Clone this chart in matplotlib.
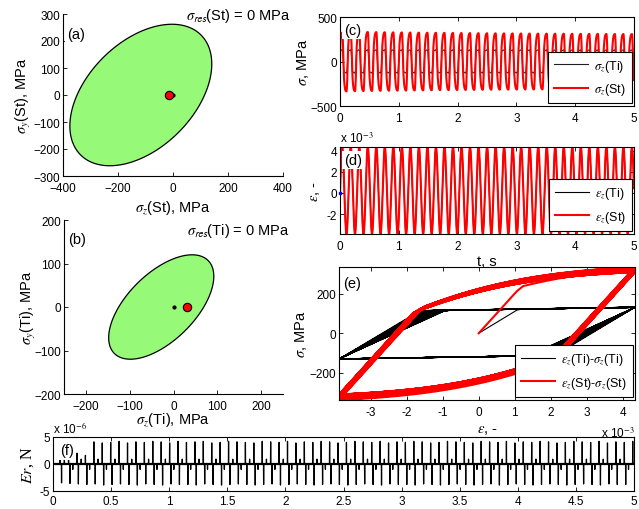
import numpy as np
import matplotlib
matplotlib.use("Agg")
import matplotlib.pyplot as plt
from matplotlib.ticker import FuncFormatter

plt.rcParams['font.family'] = ['Liberation Sans', 'DejaVu Sans']
plt.rcParams['mathtext.fontset'] = 'stix'
plt.rcParams['font.size'] = 9

# ---------------- data ----------------
# (a) steel yield ellipse (MPa)
st_ell_center = [-117.0, 0.0]
st_ell_half = [258.0, 262.0]
st_ell_phase_deg = 64.0
st_point = [-15.0, 0.0]
# (b) titanium yield ellipse (MPa)
ti_ell_center = [-28.0, 0.0]
ti_ell_half = [120.0, 120.0]
ti_ell_phase_deg = 54.0
ti_point = [30.0, 0.0]
origin_point = [0.0, 0.0]

# loading (strain controlled)
t_end = 5.0
dt = 0.001
load_freq_hz = 6.9
strain_max = 4.34e-3
strain_min = -3.88e-3

# steel (St) material parameters
st_E = 200e3
st_sy0 = 235.0
st_C = 58000.0
st_gamma = 480.0
st_Q = 40.0
st_b = 4.0
# titanium (Ti) material parameters
ti_E0 = 110e3
ti_sy = 122.0
ti_H = 3000.0
ti_D = 0.3
ti_b = 5.0

# (f) residual spikes (x 1e-6 N), one pair per load reversal
er_pos_e6 = [1.2, 1.8, 2.0, 1.6, 4.1, 3.9, 4.0, 4.2, 3.9, 4.1, 4.0, 4.2, 4.1, 3.9,
             4.2, 4.0, 4.1, 4.2, 3.9, 4.0, 4.2, 4.1, 4.0, 3.9, 4.2, 4.1, 4.0, 4.2,
             3.9, 4.1, 4.0, 4.2, 4.1, 3.9, 4.0, 4.2, 4.1, 4.0, 4.2, 3.9, 4.1, 4.0,
             4.2, 4.1, 3.9, 4.0, 4.2, 4.1, 4.0, 3.9, 4.2, 4.1, 4.0, 4.2, 3.9, 4.1,
             4.0, 4.2, 4.1, 3.9, 4.0, 4.2, 4.1, 4.0, 4.2, 3.9, 4.1, 4.0, 4.2, 4.1]
er_neg_e6 = [-3.5, -3.6, -3.7, -3.8, -3.7, -3.9, -3.8, -3.7, -3.8, -3.9, -3.7, -3.8,
             -3.9, -3.7, -3.8, -3.8, -3.9, -3.7, -3.8, -3.9, -3.8, -3.7, -3.8, -3.9,
             -3.8, -3.7, -3.9, -3.8, -3.7, -3.8, -3.9, -3.8, -3.7, -3.8, -3.9, -3.8,
             -3.7, -3.8, -3.9, -3.7, -3.8, -3.8, -3.9, -3.7, -3.8, -3.9, -3.8, -3.7,
             -3.8, -3.9, -3.8, -3.7, -3.9, -3.8, -3.7, -3.8, -3.9, -3.8, -3.7, -3.8,
             -3.9, -3.8, -3.7, -3.8, -3.9, -3.7, -3.8, -3.8, -3.9, -3.7]
er_small_e6 = [0.9, -1.0]

# ---------------- derived series ----------------
t = np.arange(0.0, t_end + dt / 2, dt)
s_mean = 0.5 * (strain_max + strain_min)
s_amp = 0.5 * (strain_max - strain_min)
phi0 = np.arcsin(s_mean / s_amp)
strain = s_mean + s_amp * np.sin(2 * np.pi * load_freq_hz * t - phi0)


def steel_response(eps):
    sig = np.empty_like(eps)
    ep = alpha = p = 0.0
    for i, e in enumerate(eps):
        sy = st_sy0 - st_Q * (1 - np.exp(-st_b * p))
        xi = st_E * (e - ep) - alpha
        f = abs(xi) - sy
        if f > 0:
            n = np.sign(xi)
            dp = f / (st_E + st_C - st_gamma * alpha * n)
            ep += n * dp
            alpha += st_C * n * dp - st_gamma * alpha * dp
            p += dp
        sig[i] = st_E * (e - ep)
    return sig


def ti_response(eps):
    sig = np.empty_like(eps)
    ep = alpha = p = 0.0
    for i, e in enumerate(eps):
        E = ti_E0 * (1 - ti_D * (1 - np.exp(-ti_b * p)))
        xi = E * (e - ep) - alpha
        f = abs(xi) - ti_sy
        if f > 0:
            n = np.sign(xi)
            dp = f / (E + ti_H)
            ep += n * dp
            alpha += ti_H * n * dp
            p += dp
        sig[i] = E * (e - ep)
    return sig


sig_st = steel_response(strain)
sig_ti = ti_response(strain)

# residual spikes series: one +/- pair after every load reversal
half = 0.5 / load_freq_hz
er_t, er_v = [0.0], [0.0]
for k in range(len(er_pos_e6)):
    base = (k + 0.5) * half + 0.35 * half
    for off, h in [(0.0, er_pos_e6[k]), (0.012, er_neg_e6[k]),
                   (0.5 * half, er_small_e6[k % 2])]:
        tc = base + off
        if tc > t_end:
            continue
        er_t += [tc - 0.0015, tc, tc + 0.0015]
        er_v += [0.0, h * 1e-6, 0.0]
er_t.append(t_end)
er_v.append(0.0)

# ---------------- figure ----------------
W, H = 639, 510
fig = plt.figure(figsize=(W / 100, H / 100), dpi=100)


def box(l, r, tp, b):
    return [l / W, (H - b) / H, (r - l) / W, (b - tp) / H]


green = '#96fa78'
LBL = 10.5


def style(ax, boxon=True):
    for s in ax.spines.values():
        s.set_linewidth(0.8)
    if not boxon:
        ax.spines['top'].set_visible(False)
        ax.spines['right'].set_visible(False)
    ax.tick_params(direction='in', length=3, width=0.6, labelsize=8.5,
                   top=boxon, right=boxon)
    ax.tick_params(axis='x', pad=4)
    ax.tick_params(axis='y', pad=2)


def ellipse(ax, c, half_ax, ph):
    tt = np.linspace(0, 2 * np.pi, 400)
    x = c[0] + half_ax[0] * np.cos(tt)
    y = c[1] + half_ax[1] * np.cos(tt - np.deg2rad(ph))
    ax.fill(x, y, facecolor=green, edgecolor='black', linewidth=0.9, zorder=1)


def tag(ax, s, x=0.03, y=0.93):
    ax.text(x, y, s, transform=ax.transAxes, fontsize=10.5, ha='left', va='top',
            zorder=10, bbox=dict(facecolor='white', edgecolor='none', pad=1.5))


# (a)
ax = fig.add_axes(box(63, 283, 15, 177))
ellipse(ax, st_ell_center, st_ell_half, st_ell_phase_deg)
ax.plot(*origin_point, 'o', color='black', markersize=2, zorder=3)
ax.plot(*st_point, 'o', markerfacecolor='red', markeredgecolor='black',
        markersize=6, markeredgewidth=0.8, zorder=4)
ax.set_xlim(-400, 400)
ax.set_ylim(-300, 300)
ax.set_xticks(np.arange(-400, 401, 200))
ax.set_yticks(np.arange(-300, 301, 100))
style(ax, boxon=False)
ax.set_xlabel(r'$\sigma_z$(St), MPa', fontsize=LBL)
ax.set_ylabel(r'$\sigma_y$(St), MPa', fontsize=LBL)
ax.xaxis.set_label_coords(0.5, -0.14)
ax.yaxis.set_label_coords(-0.135, 0.5)
tag(ax, '(a)', 0.02, 0.92)
ax.text(0.56, 0.94, r'$\sigma_{\mathsf{res}}$(St) = 0 MPa', transform=ax.transAxes,
        fontsize=LBL, ha='left', va='bottom', zorder=10,
        bbox=dict(facecolor='white', edgecolor='none', pad=1))

# (b)
ax = fig.add_axes(box(64, 283, 221, 395))
ellipse(ax, ti_ell_center, ti_ell_half, ti_ell_phase_deg)
ax.plot(*origin_point, 'o', color='black', markersize=2, zorder=3)
ax.plot(*ti_point, 'o', markerfacecolor='red', markeredgecolor='black',
        markersize=6, markeredgewidth=0.8, zorder=4)
ax.set_xlim(-250, 250)
ax.set_ylim(-200, 200)
ax.set_xticks(np.arange(-200, 201, 100))
ax.set_yticks(np.arange(-200, 201, 100))
style(ax, boxon=False)
ax.set_xlabel(r'$\sigma_z$(Ti), MPa', fontsize=LBL)
ax.set_ylabel(r'$\sigma_y$(Ti), MPa', fontsize=LBL)
ax.xaxis.set_label_coords(0.5, -0.095)
ax.yaxis.set_label_coords(-0.12, 0.5)
tag(ax, '(b)', 0.02, 0.93)
ax.text(0.56, 0.89, r'$\sigma_{\mathsf{res}}$(Ti) = 0 MPa', transform=ax.transAxes,
        fontsize=LBL, ha='left', va='bottom', zorder=10)

leg_kw = dict(loc='lower right', fontsize=9, frameon=True, fancybox=False,
              edgecolor='black', framealpha=1, handlelength=2.7, handletextpad=0.5,
              labelspacing=0.6, borderpad=0.5, borderaxespad=0)

# (c)
ax = fig.add_axes(box(340, 634, 18, 107))
ax.plot(t, sig_ti, color='#202020', linewidth=0.8, label=r'$\sigma_z$(Ti)')
ax.plot(t, sig_st, color='red', linewidth=1.5, label=r'$\sigma_z$(St)')
ax.set_xlim(0, 5)
ax.set_ylim(-500, 500)
ax.set_xticks(range(6))
ax.set_yticks([-500, 0, 500])
style(ax)
ax.set_ylabel(r'$\sigma$, MPa', fontsize=LBL)
ax.yaxis.set_label_coords(-0.1, 0.5)
tag(ax, '(c)', 0.015, 0.93)
lg = ax.legend(bbox_to_anchor=(0.993, 0.03), **leg_kw)
lg.get_frame().set_linewidth(0.8)
lg.set_zorder(20)

# (d)
ax = fig.add_axes(box(340, 634, 148, 235))
ax.plot(t, strain, color='black', linewidth=0.8, label=r'$\varepsilon_z$(Ti)')
ax.plot(t, strain, color='red', linewidth=1.5, label=r'$\varepsilon_z$(St)')
ax.plot(0, 0, 's', color='blue', markersize=2, zorder=5, clip_on=False)
ax.set_xlim(0, 5)
ax.set_ylim(strain.min(), strain.max())
ax.set_xticks(range(6))
ax.set_yticks([-2e-3, 0, 2e-3, 4e-3])
ax.yaxis.set_major_formatter(FuncFormatter(lambda v, p: f'{v * 1e3:g}'))
style(ax)
ax.set_ylabel(r'$\varepsilon$, -', fontsize=LBL)
ax.yaxis.set_label_coords(-0.06, 0.5)
ax.set_xlabel('t, s', fontsize=LBL)
ax.xaxis.set_label_coords(0.5, -0.225)
ax.text(0.0, 1.02, r'x 10$^{-3}$', transform=ax.transAxes, fontsize=8.5,
        ha='left', va='bottom')
tag(ax, '(d)', 0.015, 0.93)
lg = ax.legend(bbox_to_anchor=(0.993, 0.034), **leg_kw)
lg.get_frame().set_linewidth(0.8)
lg.set_zorder(20)

# (e)
ax = fig.add_axes(box(339, 635, 268, 401))
ax.plot(strain, sig_ti, color='black', linewidth=0.8,
        label=r'$\varepsilon_z$(Ti)-$\sigma_z$(Ti)')
ax.plot(strain, sig_st, color='red', linewidth=1.5,
        label=r'$\varepsilon_z$(St)-$\sigma_z$(St)')
ax.set_xlim(strain.min(), strain.max())
ax.set_ylim(sig_st.min(), sig_st.max())
ax.set_xticks(np.arange(-3, 5) * 1e-3)
ax.xaxis.set_major_formatter(FuncFormatter(lambda v, p: f'{v * 1e3:.0f}'))
ax.set_yticks([-200, 0, 200])
style(ax)
ax.set_ylabel(r'$\sigma$, MPa', fontsize=LBL)
ax.yaxis.set_label_coords(-0.1, 0.5)
ax.set_xlabel(r'$\varepsilon$, -', fontsize=LBL)
ax.xaxis.set_label_coords(0.5, -0.165)
ax.text(1.0, -0.19, r'x 10$^{-3}$', transform=ax.transAxes, fontsize=8.5,
        ha='right', va='top')
tag(ax, '(e)', 0.015, 0.93)
lg = ax.legend(bbox_to_anchor=(0.993, 0.023), **leg_kw)
lg.get_frame().set_linewidth(0.8)
lg.set_zorder(20)

# (f)
ax = fig.add_axes(box(53, 634, 438, 492))
ax.plot(er_t, er_v, color='black', linewidth=0.9)
ax.axhline(0, color='black', linewidth=1.6)
ax.set_xlim(0, 5)
ax.set_ylim(-5e-6, 5e-6)
ax.set_xticks(np.arange(0, 5.01, 0.5))
ax.xaxis.set_major_formatter(FuncFormatter(lambda v, p: f'{v:g}'))
ax.set_yticks([-5e-6, 0, 5e-6])
ax.yaxis.set_major_formatter(FuncFormatter(lambda v, p: f'{v * 1e6:.0f}'))
style(ax)
ax.tick_params(axis='x', pad=3)
ax.set_ylabel(r'$Er$, N', fontsize=11.5, family='Liberation Serif')
ax.yaxis.set_label_coords(-0.03, 0.5)
ax.text(0.0, 1.03, r'x 10$^{-6}$', transform=ax.transAxes, fontsize=8.5,
        ha='left', va='bottom')
tag(ax, '(f)', 0.012, 0.88)

fig.savefig('out.png', dpi=100)
